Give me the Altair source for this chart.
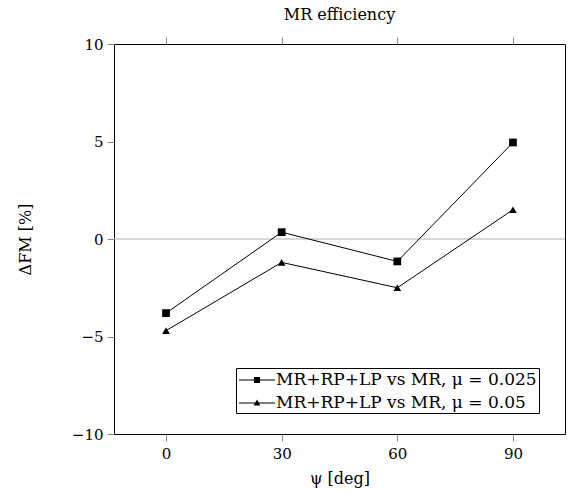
import altair as alt
import pandas as pd

# Rotor yaw angle and change in figure of merit for the two friction cases
psi = [0, 30, 60, 90]
fm_mu025 = [-3.8, 0.35, -1.15, 4.95]
fm_mu05 = [-4.7, -1.2, -2.5, 1.5]

series_names = [
    "MR+RP+LP vs MR, μ = 0.025",
    "MR+RP+LP vs MR, μ = 0.05",
]
marker_shapes = ["square", "triangle-up"]
# legend glyphs (filled paths): a thin bar with the marker at its middle
legend_glyphs = [
    "M-1,-0.06H3V0.06H-1Z"
    "M0.66,-0.34H1.34V0.34H0.66Z",
    "M-1,-0.06H3V0.06H-1Z"
    "M1,-0.4L1.37,0.27L0.63,0.27Z",
]

rows = []
for name, vals in zip(series_names, [fm_mu025, fm_mu05]):
    for p, v in zip(psi, vals):
        rows.append({"psi": p, "dfm": v, "series": name})
df = pd.DataFrame(rows)

FONT = "DejaVu Serif"

x_scale = alt.Scale(domain=[-13.5, 103.5], nice=False, zero=False)
y_scale = alt.Scale(domain=[-10, 10], nice=False)

x_bottom = alt.X(
    "psi:Q",
    scale=x_scale,
    axis=alt.Axis(
        values=psi, title="ψ [deg]", grid=False, domain=False,
        tickColor="#888888", tickSize=7, labelPadding=5,
        labelFont=FONT, labelFontSize=15, labelColor="black",
        titleFont=FONT, titleFontSize=16, titleFontWeight="normal",
        titleColor="black", titleY=44, titleBaseline="middle",
    ),
)
y_axis = alt.Axis(
    values=[-10, -5, 0, 5, 10], title="ΔFM [%]", grid=False, domain=False,
    tickColor="#888888", tickSize=7, labelPadding=4,
    labelFont=FONT, labelFontSize=15, labelColor="black",
    titleFont=FONT, titleFontSize=16, titleFontWeight="normal",
    titleColor="black", titlePadding=38,
)
y_left = alt.Y("dfm:Q", scale=y_scale, axis=y_axis)
x_plain = alt.X("psi:Q", scale=x_scale, axis=None)

base = alt.Chart(df)

zero_line = alt.Chart(pd.DataFrame({"dfm": [0.0]})).mark_rule(
    color="#b0b0b0", strokeWidth=1
).encode(y=y_left)

lines = base.mark_line(color="black", strokeWidth=1).encode(
    x=x_bottom, y=y_left, detail="series:N"
)

# mirrored ticks along the top edge
top_ticks = base.mark_point(opacity=0).encode(
    x=alt.X("psi:Q", scale=x_scale, axis=alt.Axis(
        orient="top", values=psi, labels=False, title=None, grid=False,
        domain=False, tickColor="#888888", tickSize=7)),
    y=y_left,
)

marker_layers = [
    base.transform_filter(alt.datum.series == name)
    .mark_point(filled=True, color="black", opacity=1, size=60, shape=shape)
    .encode(x=x_plain, y=y_left)
    for name, shape in zip(series_names, marker_shapes)
]

legend_layer = base.mark_point(
    filled=True, opacity=0, color="black", size=324
).encode(
    x=x_plain,
    y=y_left,
    shape=alt.Shape(
        "series:N",
        scale=alt.Scale(domain=series_names, range=legend_glyphs),
        legend=alt.Legend(
            title=None, orient="none", legendX=122, legendY=324,
            strokeColor="black", fillColor="white", padding=2,
            cornerRadius=0, labelFont=FONT, labelFontSize=17,
            labelColor="black", labelLimit=0, symbolSize=324,
            symbolFillColor="black", symbolOpacity=1, rowPadding=5,
            labelOffset=18,
        ),
    ),
)

chart = (
    alt.layer(zero_line, lines, top_ticks, *marker_layers, legend_layer)
    .resolve_axis(x="independent")
    .properties(
        width=451, height=390,
        autosize=alt.AutoSizeParams(type="none"),
        padding={"left": 114, "top": 44, "right": 6, "bottom": 61},
        title=alt.Title("MR efficiency", font=FONT, fontSize=16,
                        fontWeight="normal", color="black", anchor="middle",
                        offset=14),
        background="white",
    )
    .configure_view(stroke="black", strokeWidth=1)
)

chart.save("out.html", embed_options={"renderer": "svg", "actions": False})
